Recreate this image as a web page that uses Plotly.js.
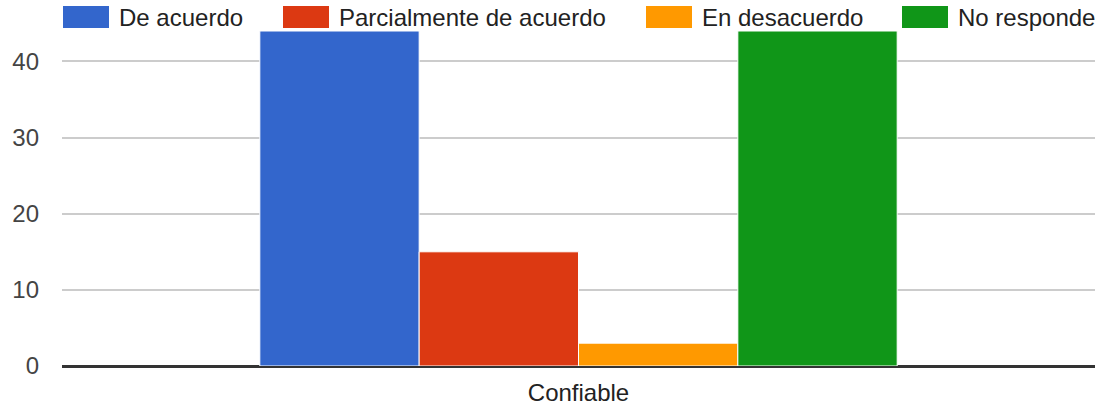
<!DOCTYPE html>
<html>
<head>
<meta charset="utf-8">
<script src="https://cdn.plot.ly/plotly-3.0.1.min.js"></script>
<style>html,body{margin:0;padding:0;background:#fff;}#chart{width:1101px;height:412px;}</style>
</head>
<body>
<div id="chart"></div>
<script>
const categories = ['Confiable'];
const seriesNames = ['De acuerdo', 'Parcialmente de acuerdo', 'En desacuerdo', 'No responde'];
const seriesValues = [[44], [15], [3], [44]];
const seriesColors = ['#3366cc', '#dc3912', '#ff9900', '#109618'];
const yTickVals = [0, 10, 20, 30, 40];

const traces = seriesNames.map((name, i) => ({
  type: 'bar',
  name: name,
  x: categories,
  y: seriesValues[i],
  marker: {color: seriesColors[i], line: {color: '#ffffff', width: 1}},
  hoverinfo: 'none',
  showlegend: false
}));

// custom legend (swatches + text)
const legendSwatchX = [63, 283, 646, 902];
const W = 1101, H = 412;
const mL = 62, mR = 6, mT = 31, mB = 46;
const pw = W - mL - mR, ph = H - mT - mB;
const toPX = x => (x - mL) / pw;
const toPY = y => (H - mB - y) / ph;
const shapes = [], annotations = [];
seriesNames.forEach((name, i) => {
  const x0 = legendSwatchX[i];
  shapes.push({type: 'rect', xref: 'paper', yref: 'paper',
    x0: toPX(x0), x1: toPX(x0 + 46), y0: toPY(28), y1: toPY(6),
    fillcolor: seriesColors[i], line: {width: 0}});
  annotations.push({xref: 'paper', yref: 'paper', x: toPX(x0 + 54), y: toPY(18),
    xanchor: 'left', yanchor: 'middle', text: name, showarrow: false,
    font: {family: 'Liberation Sans, Arial, sans-serif', size: 24, color: '#222222'}});
});

const layout = {
  width: W, height: H,
  margin: {l: mL, r: mR, t: mT, b: mB, pad: 0},
  paper_bgcolor: '#ffffff', plot_bgcolor: '#ffffff',
  barmode: 'group', bargap: 0.383, bargroupgap: 0,
  font: {family: 'Liberation Sans, Arial, sans-serif', size: 24, color: '#222222'},
  xaxis: {type: 'category', showgrid: false, zeroline: false, showline: false,
    ticks: '', tickfont: {size: 24, color: '#222222'}, ticklabelstandoff: 10, fixedrange: true},
  yaxis: {range: [0, 44], tickvals: yTickVals, ticktext: yTickVals.map(String),
    showgrid: true, gridcolor: '#cccccc', gridwidth: 2,
    zeroline: true, zerolinecolor: '#333333', zerolinewidth: 3,
    showline: false, ticks: '', tickfont: {size: 24, color: '#444444'},
    ticklabelstandoff: 22, fixedrange: true},
  shapes: shapes,
  annotations: annotations,
  showlegend: false
};

Plotly.newPlot('chart', traces, layout, {displayModeBar: false, staticPlot: true});
</script>
</body>
</html>
